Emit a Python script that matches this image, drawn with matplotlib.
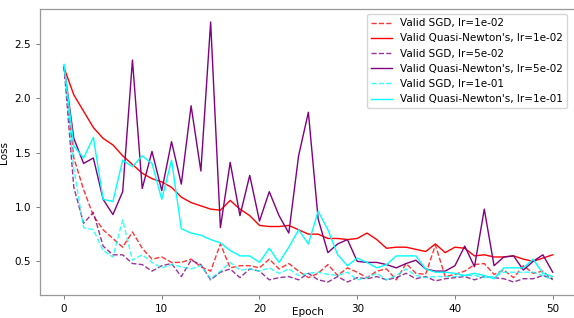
import matplotlib
matplotlib.use("Agg")
import matplotlib.pyplot as plt
import numpy as np

# epochs 0..50
epochs = np.arange(51)

sgd_1e2 = [2.29, 1.45, 1.16, 0.92, 0.79, 0.71, 0.63, 0.77, 0.62, 0.52,
           0.54, 0.49, 0.49, 0.52, 0.45, 0.41, 0.66, 0.44, 0.46, 0.46,
           0.44, 0.52, 0.43, 0.48, 0.41, 0.35, 0.39, 0.47, 0.37, 0.44,
           0.40, 0.35, 0.41, 0.43, 0.33, 0.48, 0.39, 0.38, 0.65, 0.36,
           0.38, 0.41, 0.47, 0.48, 0.38, 0.42, 0.35, 0.46, 0.39, 0.41,
           0.33]
qn_1e2 = [2.28, 2.03, 1.88, 1.73, 1.63, 1.57, 1.47, 1.39, 1.31, 1.26,
          1.23, 1.18, 1.09, 1.04, 1.01, 0.98, 0.97, 1.06, 0.98, 0.92,
          0.83, 0.82, 0.82, 0.83, 0.79, 0.75, 0.75, 0.71, 0.71, 0.70,
          0.71, 0.76, 0.70, 0.62, 0.63, 0.63, 0.61, 0.59, 0.66, 0.58,
          0.63, 0.62, 0.55, 0.56, 0.54, 0.54, 0.55, 0.52, 0.50, 0.53,
          0.56]
sgd_5e2 = [2.29, 1.18, 0.85, 0.95, 0.64, 0.56, 0.56, 0.48, 0.47, 0.41,
           0.46, 0.48, 0.36, 0.51, 0.47, 0.33, 0.40, 0.43, 0.35, 0.43,
           0.41, 0.33, 0.35, 0.36, 0.33, 0.39, 0.33, 0.31, 0.36, 0.31,
           0.35, 0.34, 0.36, 0.33, 0.35, 0.39, 0.34, 0.36, 0.32, 0.34,
           0.35, 0.36, 0.33, 0.36, 0.35, 0.34, 0.31, 0.34, 0.34, 0.37,
           0.34]
qn_5e2 = [2.29, 1.63, 1.40, 1.45, 1.07, 0.93, 1.14, 2.35, 1.17, 1.51,
          1.15, 1.60, 1.21, 1.93, 1.33, 2.70, 0.81, 1.41, 0.92, 1.29,
          0.87, 1.14, 0.92, 0.76, 1.47, 1.87, 0.89, 0.58, 0.66, 0.70,
          0.50, 0.49, 0.49, 0.47, 0.44, 0.48, 0.51, 0.43, 0.41, 0.41,
          0.46, 0.64, 0.45, 0.98, 0.46, 0.54, 0.55, 0.42, 0.50, 0.56,
          0.40]
sgd_1e1 = [2.31, 1.35, 0.81, 0.79, 0.60, 0.54, 0.88, 0.51, 0.56, 0.49,
           0.44, 0.47, 0.45, 0.43, 0.46, 0.34, 0.41, 0.49, 0.42, 0.43,
           0.41, 0.44, 0.39, 0.43, 0.37, 0.39, 0.40, 0.38, 0.37, 0.40,
           0.33, 0.35, 0.39, 0.33, 0.37, 0.43, 0.37, 0.35, 0.36, 0.36,
           0.36, 0.37, 0.37, 0.35, 0.36, 0.40, 0.40, 0.40, 0.40, 0.37,
           0.33]
qn_1e1 = [2.31, 1.56, 1.45, 1.64, 1.07, 1.05, 1.43, 1.37, 1.47, 1.40,
          1.07, 1.43, 0.80, 0.76, 0.74, 0.70, 0.67, 0.60, 0.55, 0.55,
          0.49, 0.62, 0.49, 0.63, 0.79, 0.66, 0.96, 0.79, 0.56, 0.46,
          0.53, 0.49, 0.44, 0.47, 0.55, 0.55, 0.55, 0.43, 0.40, 0.40,
          0.39, 0.37, 0.39, 0.37, 0.34, 0.44, 0.44, 0.44, 0.52, 0.39,
          0.36]

series = [
    ("Valid SGD, lr=1e-02", sgd_1e2, "red", "--"),
    ("Valid Quasi-Newton's, lr=1e-02", qn_1e2, "red", "-"),
    ("Valid SGD, lr=5e-02", sgd_5e2, "purple", "--"),
    ("Valid Quasi-Newton's, lr=5e-02", qn_5e2, "purple", "-"),
    ("Valid SGD, lr=1e-01", sgd_1e1, "cyan", "--"),
    ("Valid Quasi-Newton's, lr=1e-01", qn_1e1, "cyan", "-"),
]

FS = 7.5
W, H = 574, 318

fig = plt.figure(figsize=(W / 100, H / 100), dpi=100)
# axes runs past the right edge, as in the cropped original
ax = fig.add_axes([40 / W, 23 / H, 542 / W, 286 / H])

for label, vals, color, ls in series:
    alpha = 0.8 if ls == "--" else 1.0
    ax.plot(epochs, vals, color=color, linestyle=ls, linewidth=1.0,
            alpha=alpha, label=label)

ax.set_xlim(-2.46, 53.0)
ax.set_xticks([0, 10, 20, 30, 40, 50])
ax.set_yticks([0.5, 1.0, 1.5, 2.0, 2.5])
ax.tick_params(labelsize=FS, length=3, width=0.6, color="0.4")
ax.set_xlabel("Epoch", fontsize=FS)
ax.xaxis.set_label_coords(0.494, -0.043)
ax.set_ylabel("Loss", fontsize=FS, labelpad=4)
for sp in ax.spines.values():
    sp.set_color("0.6")
    sp.set_linewidth(0.9)

ax.legend(loc="upper right", fontsize=FS, bbox_to_anchor=(567 / W, 1 - 14 / H),
          bbox_transform=fig.transFigure, borderaxespad=0, handlelength=2.0)

fig.savefig("out.png", dpi=100)
